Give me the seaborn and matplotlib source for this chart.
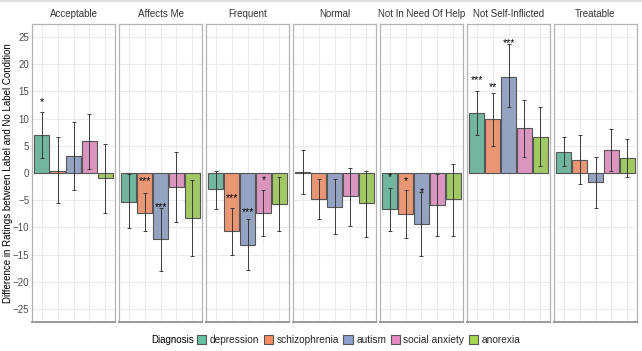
import numpy as np
import pandas as pd
import matplotlib
matplotlib.use("Agg")
import matplotlib.pyplot as plt
from matplotlib.patches import Patch
import seaborn as sns

facets = ["Acceptable", "Affects Me", "Frequent", "Normal",
          "Not In Need Of Help", "Not Self-Inflicted", "Treatable"]
diagnoses = ["depression", "schizophrenia", "autism", "social anxiety", "anorexia"]

acceptable_mean = [7.0, 0.4, 3.1, 5.9, -0.9]
affects_mean = [-5.3, -7.3, -12.2, -2.6, -8.3]
frequent_mean = [-3.0, -10.7, -13.2, -7.3, -5.7]
normal_mean = [0.2, -4.8, -6.2, -4.3, -5.6]
need_help_mean = [-6.7, -7.5, -9.4, -5.9, -4.8]
self_inflicted_mean = [11.0, 9.9, 17.7, 8.2, 6.7]
treatable_mean = [3.9, 2.3, -1.7, 4.2, 2.8]

acceptable_lo = [2.8, -5.6, -3.1, 0.7, -7.3]
affects_lo = [-10.2, -10.7, -18.0, -9.0, -15.3]
frequent_lo = [-6.6, -15.0, -17.9, -11.5, -10.7]
normal_lo = [-3.9, -8.4, -11.2, -9.7, -11.7]
need_help_lo = [-10.7, -11.9, -15.2, -11.6, -11.5]
self_inflicted_lo = [7.0, 5.0, 12.1, 3.0, 1.3]
treatable_lo = [1.2, -2.1, -6.5, 0.4, -0.7]

acceptable_hi = [11.3, 6.6, 9.4, 10.9, 5.3]
affects_hi = [-0.25, -3.7, -6.5, 3.9, -1.2]
frequent_hi = [0.4, -6.5, -8.5, -3.1, -0.8]
normal_hi = [4.3, -1.1, -1.1, 0.9, 0.4]
need_help_hi = [-2.8, -3.1, -3.5, -0.2, 1.7]
self_inflicted_hi = [15.1, 14.8, 23.8, 13.5, 12.2]
treatable_hi = [6.7, 6.9, 3.0, 8.1, 6.2]

# significance markers
sig_facet = ["Acceptable", "Affects Me", "Affects Me", "Frequent", "Frequent", "Frequent",
             "Not In Need Of Help", "Not In Need Of Help", "Not In Need Of Help",
             "Not Self-Inflicted", "Not Self-Inflicted", "Not Self-Inflicted"]
sig_diag = ["depression", "schizophrenia", "autism", "schizophrenia", "autism", "social anxiety",
            "depression", "schizophrenia", "autism",
            "depression", "schizophrenia", "autism"]
sig_label = ["*", "***", "***", "***", "***", "*", "*", "*", "*", "***", "**", "***"]
sig_y = [13.1, -1.4, -6.3, -4.7, -7.2, -1.3, -0.7, -1.5, -3.5, 17.1, 15.8, 23.8]

y_ticks = [-25, -20, -15, -10, -5, 0, 5, 10, 15, 20, 25]

means = [acceptable_mean, affects_mean, frequent_mean, normal_mean,
         need_help_mean, self_inflicted_mean, treatable_mean]
los = [acceptable_lo, affects_lo, frequent_lo, normal_lo,
       need_help_lo, self_inflicted_lo, treatable_lo]
his = [acceptable_hi, affects_hi, frequent_hi, normal_hi,
       need_help_hi, self_inflicted_hi, treatable_hi]

rows = []
for f, m, lo, hi in zip(facets, means, los, his):
    for d, a, b, c in zip(diagnoses, m, lo, hi):
        rows.append(dict(facet=f, diagnosis=d, value=a, lo=b, hi=c))
df = pd.DataFrame(rows)

sns.set_theme(style="white")
plt.rcParams["font.family"] = ["Liberation Sans", "DejaVu Sans"]

palette = sns.color_palette("Set2", 5)
W, H = 642, 351
fig = plt.figure(figsize=(W / 100, H / 100), dpi=100)
fig.patch.set_facecolor("white")

left0, pw, gap = 32, 83, 4
top, bottom = 24, 322
text_col = "#333333"

for i, f in enumerate(facets):
    x0 = left0 + i * (pw + gap)
    ax = fig.add_axes([x0 / W, (H - bottom) / H, pw / W, (bottom - top) / H])
    sub = df[df.facet == f]
    sns.barplot(data=sub, x="diagnosis", y="value", hue="diagnosis", order=diagnoses,
                hue_order=diagnoses, palette=palette, errorbar=None, width=0.93,
                edgecolor="#555555", linewidth=0.8, legend=False, ax=ax, zorder=3)
    xs = np.arange(len(diagnoses))
    vals = sub.value.to_numpy()
    lo = sub.lo.to_numpy()
    hi = sub.hi.to_numpy()
    ax.errorbar(xs, vals, yerr=[vals - lo, hi - vals], fmt="none", ecolor="#2b2b2b",
                elinewidth=0.7, capsize=1.2, capthick=0.7, zorder=4, alpha=0.9)
    for sf, sd, sl, sy in zip(sig_facet, sig_diag, sig_label, sig_y):
        if sf == f:
            ax.text(diagnoses.index(sd), sy, sl, ha="center", va="center",
                    fontsize=7.5, color="black", zorder=5)
    ax.set_xlim(-0.6, 4.6)
    ax.set_ylim(-27.4, 27.4)
    ax.set_yticks(y_ticks)
    ax.set_xticks(xs)
    ax.grid(True, color="#ebebeb", linewidth=0.8, zorder=0)
    ax.set_axisbelow(True)
    ax.tick_params(axis="x", length=0, labelbottom=False)
    ax.tick_params(axis="y", length=0, pad=2, labelsize=7, labelcolor="#4d4d4d")
    if i > 0:
        ax.tick_params(axis="y", labelleft=False)
    ax.set_xlabel("")
    ax.set_ylabel("")
    for side in ["left", "right", "top"]:
        ax.spines[side].set_color("#b3b3b3")
        ax.spines[side].set_linewidth(0.9)
    ax.spines["bottom"].set_color("#9a9a9a")
    ax.spines["bottom"].set_linewidth(1.4)
    ax.set_title(f, fontsize=7, color=text_col, pad=5)

fig.text(8 / W, (H - 173) / H, "Difference in Ratings between Label and No Label Condition",
         rotation=90, ha="center", va="center", fontsize=7, color="black")

fig.text(151 / W, (H - 340) / H, "Diagnosis", ha="left", va="center", fontsize=7,
         color="black")
handles = [Patch(facecolor=c, edgecolor="#555555", linewidth=0.8) for c in palette]
fig.legend(handles, diagnoses, loc="center left", bbox_to_anchor=(197 / W, (H - 340) / H),
           ncol=5, frameon=False, fontsize=7.3, handlelength=0.9, handleheight=0.9,
           handletextpad=0.35, columnspacing=0.45, borderpad=0, borderaxespad=0)

fig.add_artist(plt.Line2D([0, 1], [1 - 1 / H, 1 - 1 / H], transform=fig.transFigure,
                          color="#dddddd", linewidth=1.5))

fig.savefig("out.png", dpi=100, facecolor="white")
